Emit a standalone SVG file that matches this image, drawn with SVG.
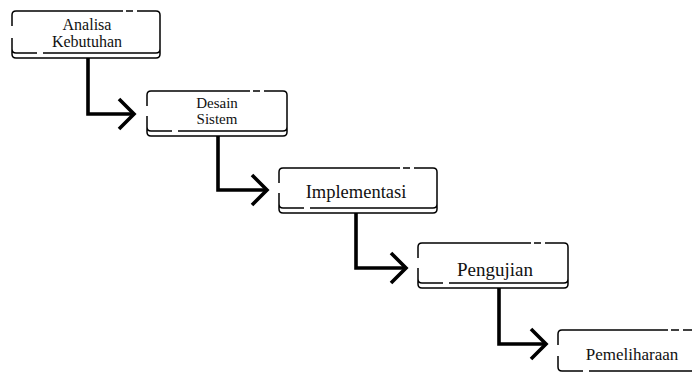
<svg xmlns="http://www.w3.org/2000/svg" width="692" height="376" viewBox="0 0 692 376">
<style>
.b{fill:none;stroke:#000;stroke-width:1.5;stroke-linecap:butt}
.c{fill:none;stroke:#000;stroke-width:3.6;stroke-linejoin:miter}
.t{font-family:"Liberation Serif","Times New Roman",serif;fill:#111;text-anchor:middle}
</style>
<rect width="692" height="376" fill="#fff"/>
<g id="connectors">
<path class="c" d="M88 58V114H134"/>
<path class="c" d="M119 99L134 114L119 129"/>
<path class="c" d="M218 136V190H267"/>
<path class="c" d="M252 175L267 190L252 205"/>
<path class="c" d="M356 213V268H406"/>
<path class="c" d="M391 253L406 268L391 283"/>
<path class="c" d="M499 288V344H546"/>
<path class="c" d="M531 329L546 344L531 359"/>
</g>
<g id="n1">
<path class="b" d="M12 26V15Q12 11 16 11H123M126 11H133M137 11H156Q160 11 160 15V49Q160 53 156 53H43M37 53H16Q12 53 12 49V38M12 49V54Q12 58 16 58H156Q160 58 160 54V49"/>
<text class="t" x="87" y="30" font-size="16">Analisa</text>
<text class="t" x="87" y="47" font-size="16">Kebutuhan</text>
</g>
<g id="n2">
<path class="b" d="M147 106V95Q147 91 151 91H250M253 91H260M264 91H283Q287 91 287 95V127Q287 131 283 131H178M172 131H151Q147 131 147 127V116M147 127V132Q147 136 151 136H283Q287 136 287 132V127"/>
<text class="t" x="217" y="108" font-size="15">Desain</text>
<text class="t" x="217" y="124" font-size="15">Sistem</text>
</g>
<g id="n3">
<path class="b" d="M279 183V172Q279 168 283 168H400M403 168H410M414 168H433Q437 168 437 172V204Q437 208 433 208H310M304 208H283Q279 208 279 204V193M279 204V209Q279 213 283 213H433Q437 213 437 209V204"/>
<text class="t" x="356" y="198" font-size="18.5">Implementasi</text>
</g>
<g id="n4">
<path class="b" d="M418 258V247Q418 243 422 243H531M534 243H541M545 243H564Q568 243 568 247V279Q568 283 564 283H449M443 283H422Q418 283 418 279V268M418 279V284Q418 288 422 288H564Q568 288 568 284V279"/>
<text class="t" x="495" y="276" font-size="19">Pengujian</text>
</g>
<g id="n5">
<path class="b" d="M558 345V334Q558 330 562 330H668M671 330H679M683 330H700M700 371H589M583 371H562Q558 371 558 367V356"/>
<text class="t" x="632" y="360" font-size="17">Pemeliharaan</text>
</g>
</svg>
